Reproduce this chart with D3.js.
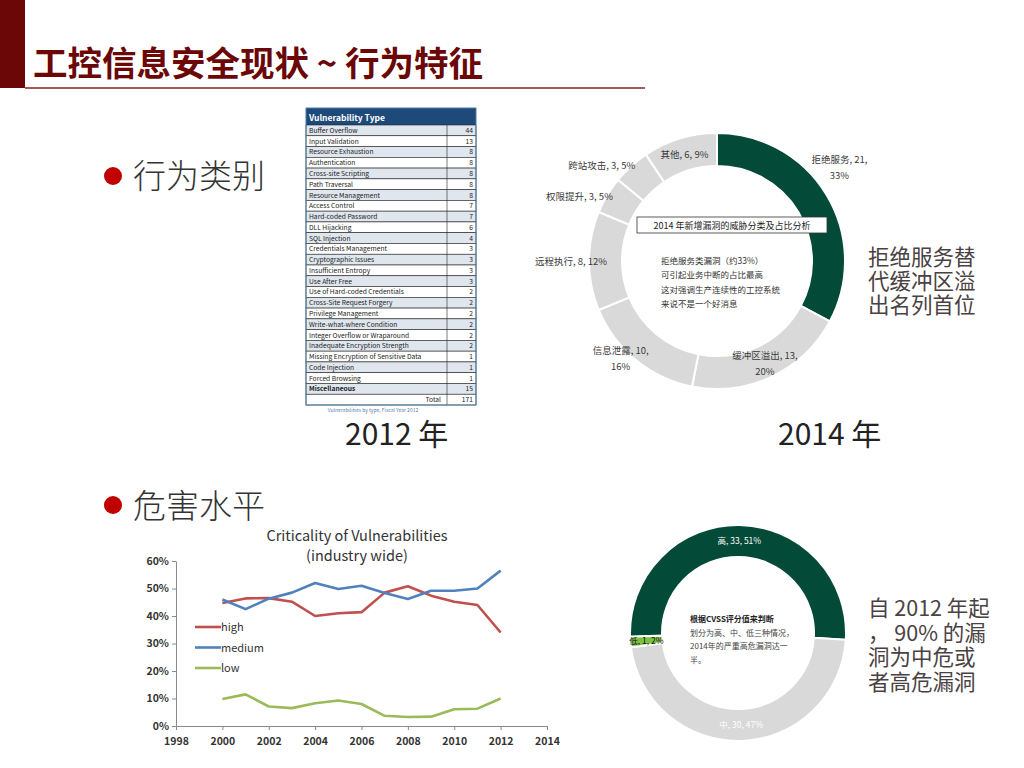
<!DOCTYPE html>
<html>
<head>
<meta charset="utf-8">
<script src="https://cdn.jsdelivr.net/npm/d3@7"></script>
<style>
  body{margin:0;background:#fff;}
  svg{display:block;}
  text{font-family:"Noto Sans CJK SC","Noto Sans",sans-serif;}
</style>
</head>
<body>
<svg id="slide" width="1024" height="768"></svg>
<script>
// ---- data ----
var vulnTypes = ["Buffer Overflow","Input Validation","Resource Exhaustion","Authentication","Cross-site Scripting","Path Traversal","Resource Management","Access Control","Hard-coded Password","DLL Hijacking","SQL Injection","Credentials Management","Cryptographic Issues","Insufficient Entropy","Use After Free","Use of Hard-coded Credentials","Cross-Site Request Forgery","Privilege Management","Write-what-where Condition","Integer Overflow or Wraparound","Inadequate Encryption Strength","Missing Encryption of Sensitive Data","Code Injection","Forced Browsing","Miscellaneous"];
var vulnCounts = [44,13,8,8,8,8,8,7,7,6,4,3,3,3,3,2,2,2,2,2,2,1,1,1,15];
var vulnTotal = 171;

var threatNames = ["拒绝服务","缓冲区溢出","信息泄露","远程执行","权限提升","跨站攻击","其他"];
var threatCounts = [21,13,10,8,3,3,6];
var threatPct = ["33%","20%","16%","12%","5%","5%","9%"];

var years = [2000,2001,2002,2003,2004,2005,2006,2007,2008,2009,2010,2011,2012];
var highPct = [44.7,46.4,46.5,45.2,40.0,41.0,41.4,48.5,50.8,47.4,45.2,44.0,34.0];
var mediumPct = [46.0,42.5,46.3,48.5,52.0,49.8,51.0,48.4,46.2,49.2,49.2,50.0,56.5];
var lowPct = [9.8,11.5,7.1,6.5,8.3,9.3,8.0,3.7,3.3,3.4,6.1,6.3,10.0];
var yTicks = [0,10,20,30,40,50,60];
var xTicks = [1998,2000,2002,2004,2006,2008,2010,2012,2014];

var levelNames = ["高","中","低"];
var levelCounts = [33,30,1];
var levelPct = ["51%","47%","2%"];

var svg = d3.select("#slide");
var mixFont = "'Liberation Sans','Noto Sans CJK SC',sans-serif";

// ---- header ----
svg.append("rect").attr("x",0).attr("y",0).attr("width",25).attr("height",88).attr("fill","#6b0707");
svg.append("line").attr("x1",25).attr("x2",645).attr("y1",88).attr("y2",88)
  .attr("stroke","#a45a5a").attr("stroke-width",2);
svg.append("text").attr("x",33).attr("y",76).attr("font-size",34.5).attr("font-weight","bold")
  .attr("fill","#6b0707").text("工控信息安全现状 ~ 行为特征");

// bullets
[["行为类别",176,188],["危害水平",505,518]].forEach(function(b){
  svg.append("circle").attr("cx",113).attr("cy",b[1]).attr("r",9).attr("fill","#c00000");
  svg.append("text").attr("x",133).attr("y",b[2]).attr("font-size",33).attr("font-weight",300)
    .attr("fill","#333").text(b[0]);
});
svg.append("text").attr("x",345).attr("y",445).attr("font-size",30).attr("font-family",mixFont)
  .attr("fill","#222").text("2012 年");
svg.append("text").attr("x",778).attr("y",445).attr("font-size",30).attr("font-family",mixFont)
  .attr("fill","#222").text("2014 年");

// right notes
function lines(arr,x,y0,dy){
  arr.forEach(function(s,i){
    svg.append("text").attr("x",x).attr("y",y0+i*dy).attr("font-size",21.5).attr("font-family",mixFont)
      .attr("fill","#4a4242").text(s);
  });
}
lines(["拒绝服务替","代缓冲区溢","出名列首位"],868,265,24);
lines(["自 2012 年起","，  90% 的漏","洞为中危或","者高危漏洞"],868,616,24.5);

// ---- table 2012 ----
var tx = 306, tw = 170, tDiv = 447;
var rows = vulnTypes.concat(["Total"]);
var ty = d3.scaleBand().domain(d3.range(rows.length)).range([125,405]);
var tbl = svg.append("g");
tbl.append("rect").attr("x",tx).attr("y",108).attr("width",tw).attr("height",17).attr("fill","#1d4a79");
tbl.append("text").attr("x",tx+3).attr("y",120.5).attr("font-size",8.5).attr("font-weight","bold")
  .attr("fill","#fff").attr("font-family","Lato, sans-serif").text("Vulnerability Type");
tbl.selectAll("rect.row").data(rows).enter().append("rect").attr("class","row")
  .attr("x",tx).attr("y",function(d,i){return ty(i);}).attr("width",tw).attr("height",ty.bandwidth())
  .attr("fill",function(d,i){return i%2==0 && i<rows.length-1 ? "#dfe6ee" : "#fff";})
  .attr("stroke","#222").attr("stroke-width",0.6);
tbl.append("line").attr("x1",tDiv).attr("x2",tDiv).attr("y1",ty(0)).attr("y2",405).attr("stroke","#222").attr("stroke-width",0.6);
tbl.selectAll("text.name").data(vulnTypes).enter().append("text").attr("class","name")
  .attr("x",tx+3).attr("y",function(d,i){return ty(i)+ty.bandwidth()/2+2.5;})
  .attr("font-size",6.7).attr("fill","#222").attr("font-family","Lato, sans-serif")
  .attr("font-weight",function(d){return d=="Miscellaneous"?"bold":"normal";}).text(function(d){return d;});
tbl.selectAll("text.val").data(vulnCounts).enter().append("text").attr("class","val")
  .attr("x",tx+tw-3).attr("y",function(d,i){return ty(i)+ty.bandwidth()/2+2.5;})
  .attr("text-anchor","end").attr("font-size",6.7).attr("fill","#222").attr("font-family","Lato, sans-serif")
  .text(function(d){return d;});
var tr = rows.length-1;
tbl.append("text").attr("x",tDiv-6).attr("y",ty(tr)+ty.bandwidth()/2+2.5).attr("text-anchor","end")
  .attr("font-size",6.7).attr("fill","#222").attr("font-family","Lato, sans-serif").text("Total");
tbl.append("text").attr("x",tx+tw-3).attr("y",ty(tr)+ty.bandwidth()/2+2.5).attr("text-anchor","end")
  .attr("font-size",6.7).attr("fill","#222").attr("font-family","Lato, sans-serif").text(vulnTotal);
tbl.append("rect").attr("x",tx).attr("y",108).attr("width",tw).attr("height",297).attr("fill","none")
  .attr("stroke","#4b7fa6").attr("stroke-width",1);
tbl.append("text").attr("x",373).attr("y",412).attr("text-anchor","middle").attr("font-size",5)
  .attr("fill","#5b7db8").attr("font-family","Lato, sans-serif").text("Vulnerabilities by type, Fiscal Year 2012");

// ---- donut 2014 ----
var c1 = svg.append("g").attr("transform","translate(717,261)");
var pie1 = d3.pie().sort(null).value(function(d){return d;});
var arc1 = d3.arc().innerRadius(95).outerRadius(128);
var arcs1 = pie1(threatCounts);
c1.selectAll("path").data(arcs1).enter().append("path").attr("d",arc1)
  .attr("fill",function(d,i){return i==0?"#034a38":"#d9d9d9";})
  .attr("stroke","#fff").attr("stroke-width",2);
var labR = [155,112,136,146,152,150,112];
var labShift = [-0.12,0,0.1,0,-0.1,-0.14,0];
arcs1.forEach(function(d,i){
  var a = (d.startAngle+d.endAngle)/2 + labShift[i];
  var x = Math.sin(a)*labR[i], y = -Math.cos(a)*labR[i];
  var t = c1.append("text").attr("text-anchor","middle").attr("font-size",9.5).attr("fill","#3a3a3a");
  if(i<3){
    t.append("tspan").attr("x",x).attr("y",y-3).text(threatNames[i]+", "+threatCounts[i]+",");
    t.append("tspan").attr("x",x).attr("y",y+13).text(threatPct[i]);
  } else {
    t.attr("x",x).attr("y",y+4).text(threatNames[i]+", "+threatCounts[i]+", "+threatPct[i]);
  }
});
c1.append("rect").attr("x",-80).attr("y",-44).attr("width",190).attr("height",16)
  .attr("fill","#fff").attr("stroke","#333").attr("stroke-width",0.8);
c1.append("text").attr("x",15).attr("y",-32.5).attr("text-anchor","middle").attr("font-size",9).attr("fill","#222")
  .text("2014 年新增漏洞的威胁分类及占比分析");
["拒绝服务类漏洞（约33%）","可引起业务中断的占比最高","这对强调生产连续性的工控系统","来说不是一个好消息"].forEach(function(s,i){
  c1.append("text").attr("x",-56).attr("y",3+i*14.3).attr("font-size",8.5).attr("fill","#333").text(s);
});

// ---- line chart ----
var lc = svg.append("g");
var x = d3.scaleLinear().domain([1998,2014]).range([176,547]);
var y = d3.scaleLinear().domain([0,60]).range([726,561]);
lc.append("g").attr("transform","translate(0,726)")
  .call(d3.axisBottom(x).tickValues(xTicks).tickFormat(d3.format("d")).tickSize(4).tickSizeOuter(0))
  .call(function(g){
    g.select(".domain").attr("stroke","#8a8a8a");
    g.selectAll(".tick line").attr("stroke","#8a8a8a");
    g.selectAll("text").attr("font-size",10.5).attr("fill","#333").attr("font-weight","bold")
      .attr("font-family","Lato, 'Open Sans', sans-serif").attr("dy","1.1em");
  });
lc.append("g").attr("transform","translate(176,0)")
  .call(d3.axisLeft(y).tickValues(yTicks).tickFormat(function(d){return d+"%";}).tickSize(4).tickSizeOuter(0))
  .call(function(g){
    g.select(".domain").attr("stroke","#8a8a8a");
    g.selectAll(".tick line").attr("stroke","#8a8a8a");
    g.selectAll("text").attr("font-size",10.5).attr("fill","#333").attr("font-weight","bold")
      .attr("font-family","Lato, 'Open Sans', sans-serif").attr("x",-7);
  });
var series = [["high",highPct,"#c0504d"],["medium",mediumPct,"#4f81bd"],["low",lowPct,"#9bbb59"]];
var line = d3.line().x(function(d,i){return x(years[i]);}).y(function(d){return y(d);});
series.forEach(function(s,k){
  lc.append("path").datum(s[1]).attr("d",line).attr("fill","none")
    .attr("stroke",s[2]).attr("stroke-width",2.6).attr("stroke-linejoin","round");
  var ly = 627+k*20.5;
  lc.append("line").attr("x1",195).attr("x2",221).attr("y1",ly).attr("y2",ly).attr("stroke",s[2]).attr("stroke-width",2.6);
  lc.append("text").attr("x",221).attr("y",ly+4).attr("font-size",11).attr("fill","#333")
    .attr("font-family","Lato, 'Open Sans', sans-serif").text(s[0]);
});
lc.append("text").attr("x",357).attr("y",541).attr("text-anchor","middle").attr("font-size",14.5)
  .attr("fill","#333").attr("font-family","Lato, 'Open Sans', sans-serif").text("Criticality of Vulnerabilities");
lc.append("text").attr("x",357).attr("y",561).attr("text-anchor","middle").attr("font-size",14.5)
  .attr("fill","#333").attr("font-family","Lato, 'Open Sans', sans-serif").text("(industry wide)");

// ---- donut severity ----
var c2 = svg.append("g").attr("transform","translate(738,633)");
var a0 = -92*Math.PI/180;
var pie2 = d3.pie().sort(null).startAngle(a0).endAngle(a0+2*Math.PI).value(function(d){return d;});
var arc2 = d3.arc().innerRadius(76).outerRadius(108);
var arcs2 = pie2(levelCounts);
var lvlColor = ["#034a38","#d9d9d9","#7cc142"];
c2.selectAll("path").data(arcs2).enter().append("path").attr("d",arc2)
  .attr("fill",function(d,i){return lvlColor[i];}).attr("stroke","#fff").attr("stroke-width",2);
arcs2.forEach(function(d,i){
  var p = arc2.centroid(d);
  c2.append("text").attr("x",p[0]).attr("y",p[1]+3).attr("text-anchor","middle").attr("font-size",8.5)
    .attr("fill",i==2?"#111":"#fff").text(levelNames[i]+", "+levelCounts[i]+", "+levelPct[i]);
});
["根据CVSS评分值来判断","划分为高、中、低三种情况，","2014年的严重高危漏洞达一","半。"].forEach(function(s,i){
  c2.append("text").attr("x",-48).attr("y",-11+i*13.5).attr("font-size",8).attr("font-weight",i==0?"bold":"normal")
    .attr("fill",i==0?"#222":"#444").text(s);
});
</script>
</body>
</html>
